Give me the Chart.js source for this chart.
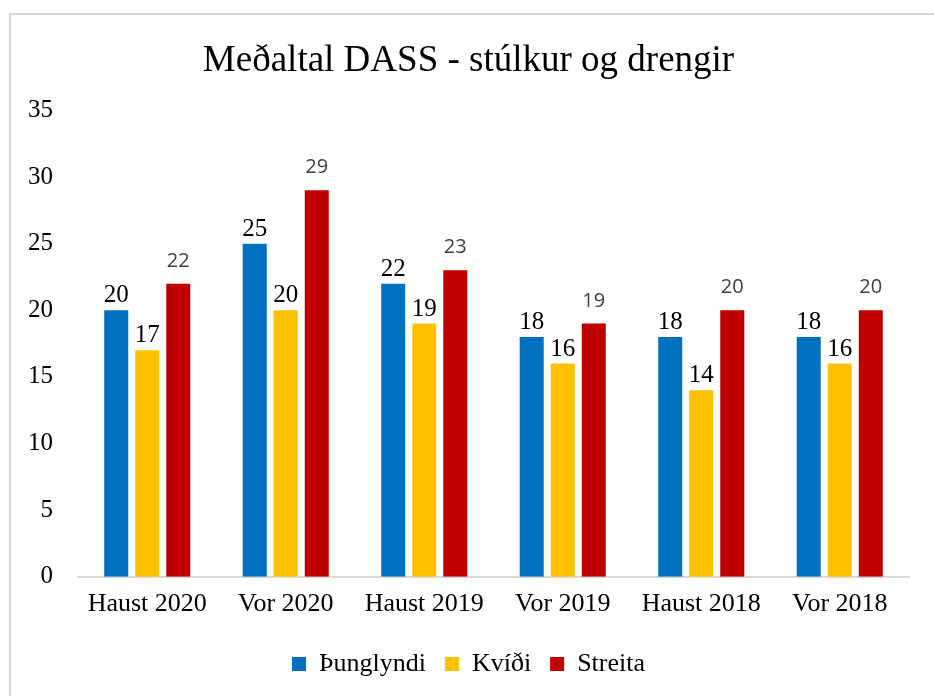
<!DOCTYPE html>
<html>
<head>
<meta charset="utf-8">
<script src="https://cdn.jsdelivr.net/npm/chart.js@4.4.0/dist/chart.umd.min.js"></script>
<style>
  html, body { margin: 0; padding: 0; background: #fff; }
  #frame { position: absolute; left: 9px; top: 13px; width: 1000px; height: 800px;
           border-top: 2px solid #d9d9d9; border-left: 2px solid #d9d9d9; }
  #wrap { position: absolute; left: 0; top: 0; width: 934px; height: 696px; }
</style>
</head>
<body>
<div id="frame"></div>
<div id="wrap"><canvas id="myChart" width="934" height="696"></canvas></div>
<script>
const categories = ['Haust 2020', 'Vor 2020', 'Haust 2019', 'Vor 2019', 'Haust 2018', 'Vor 2018'];
const thunglyndi = [20, 25, 22, 18, 18, 18];
const kvidi = [17, 20, 19, 16, 14, 16];
const streita = [22, 29, 23, 19, 20, 20];
const yTicks = [0, 5, 10, 15, 20, 25, 30, 35];

const serif = '"Liberation Serif", "Times New Roman", serif';

// draws the value above each bar (red series in a sans font, like the original)
const valueLabels = {
    id: 'valueLabels',
    afterDatasetsDraw(chart) {
        const ctx = chart.ctx;
        ctx.save();
        ctx.textAlign = 'center';
        ctx.textBaseline = 'alphabetic';
        chart.data.datasets.forEach((ds, i) => {
            const meta = chart.getDatasetMeta(i);
            const sans = i === 2;
            ctx.font = sans ? '20px "Open Sans", sans-serif' : '25px ' + serif;
            ctx.fillStyle = sans ? '#404040' : '#000';
            meta.data.forEach((bar, j) => {
                ctx.fillText(ds.data[j], bar.x, bar.y - (sans ? 17 : 8));
            });
        });
        ctx.restore();
    }
};

new Chart(document.getElementById('myChart').getContext('2d'), {
    type: 'bar',
    data: {
        labels: categories,
        datasets: [
            { label: 'Þunglyndi', data: thunglyndi, backgroundColor: '#0070C0' },
            { label: 'Kvíði', data: kvidi, backgroundColor: '#FFC000' },
            { label: 'Streita', data: streita, backgroundColor: '#C00000' }
        ]
    },
    options: {
        responsive: false,
        animation: false,
        categoryPercentage: 0.672,
        barPercentage: 0.774,
        layout: { padding: { top: 20, right: 25, bottom: 9, left: 28 } },
        plugins: {
            tooltip: { enabled: false },
            title: {
                display: true,
                text: 'Meðaltal DASS - stúlkur og drengir',
                color: '#000',
                font: { family: serif, size: 37, weight: 'normal' },
                padding: { top: 19, bottom: 27 }
            },
            legend: {
                display: true,
                position: 'bottom',
                labels: {
                    color: '#000',
                    font: { family: serif, size: 26 },
                    boxWidth: 14,
                    boxHeight: 14,
                    padding: 19
                }
            }
        },
        scales: {
            x: {
                grid: { display: false, drawTicks: false },
                border: { display: true, color: '#d9d9d9', width: 2 },
                ticks: { color: '#000', font: { family: serif, size: 26 }, padding: 12 }
            },
            y: {
                min: 0,
                max: 35,
                afterFit(scale) { scale.width = 50; },
                afterBuildTicks(scale) { scale.ticks = yTicks.map(v => ({ value: v })); },
                grid: { display: false, drawTicks: false },
                border: { display: false },
                ticks: { color: '#000', font: { family: serif, size: 25 }, padding: 25 }
            }
        }
    },
    plugins: [valueLabels]
});
</script>
</body>
</html>
